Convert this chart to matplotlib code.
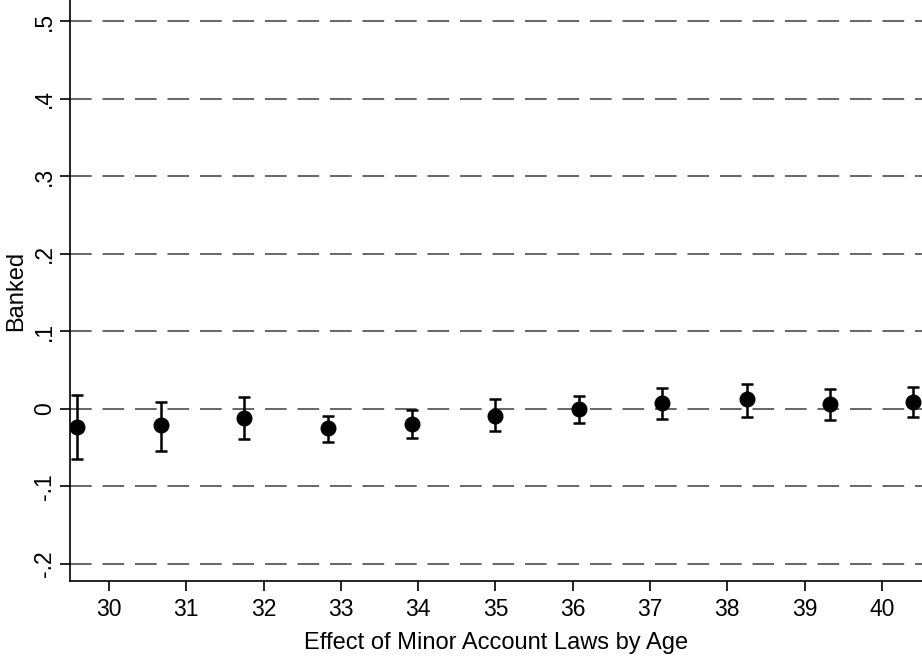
import matplotlib
matplotlib.use("Agg")
import matplotlib.pyplot as plt

plt.rcParams['font.family'] = ['Liberation Sans', 'DejaVu Sans']

# point positions (spread slightly wider than the tick labels, as in the original)
x_pos = [29.59, 30.67, 31.75, 32.84, 33.92, 35.00, 36.08, 37.16, 38.25, 39.33, 40.41]
coef = [-0.023, -0.021, -0.012, -0.025, -0.019, -0.009, 0.000, 0.007, 0.012, 0.006, 0.009]
ci_hi = [0.018, 0.009, 0.015, -0.009, -0.001, 0.012, 0.017, 0.027, 0.032, 0.025, 0.028]
ci_lo = [-0.065, -0.054, -0.039, -0.043, -0.038, -0.029, -0.018, -0.013, -0.010, -0.014, -0.010]

ages = [30, 31, 32, 33, 34, 35, 36, 37, 38, 39, 40]
y_ticks = [-0.2, -0.1, 0.0, 0.1, 0.2, 0.3, 0.4, 0.5]
y_labels = ['-.2', '-.1', '0', '.1', '.2', '.3', '.4', '.5']

fig = plt.figure(figsize=(9.22, 6.60), dpi=100)
ax = fig.add_axes([70/922, 79/660, 852/922, 581/660])

for yv in y_ticks:
    ax.axhline(yv, color='#4d4d4d', lw=1.2, dashes=(13, 6.5), zorder=1)

err_lo = [c - l for c, l in zip(coef, ci_lo)]
err_hi = [h - c for c, h in zip(coef, ci_hi)]
ax.errorbar(x_pos, coef, yerr=[err_lo, err_hi], fmt='o', color='black',
            markersize=10.5, elinewidth=1.8, capsize=4.5, capthick=1.8, zorder=3)

ax.set_xlim(29.495, 40.52)
ax.set_ylim(-0.222, 0.527)
ax.set_xticks(ages)
ax.set_yticks(y_ticks)
ax.set_yticklabels(y_labels, rotation=90, va='center')
ax.tick_params(axis='both', labelsize=16.5, length=7, width=1.2, direction='out')
ax.tick_params(axis='x', pad=5)
ax.tick_params(axis='y', pad=3)

for s in ['top', 'right']:
    ax.spines[s].set_visible(False)
for s in ['left', 'bottom']:
    ax.spines[s].set_linewidth(1.2)

ax.set_xlabel('Effect of Minor Account Laws by Age', fontsize=17, labelpad=8)
ax.set_ylabel('Banked', fontsize=17, labelpad=4)

fig.savefig('out.png', dpi=100)
